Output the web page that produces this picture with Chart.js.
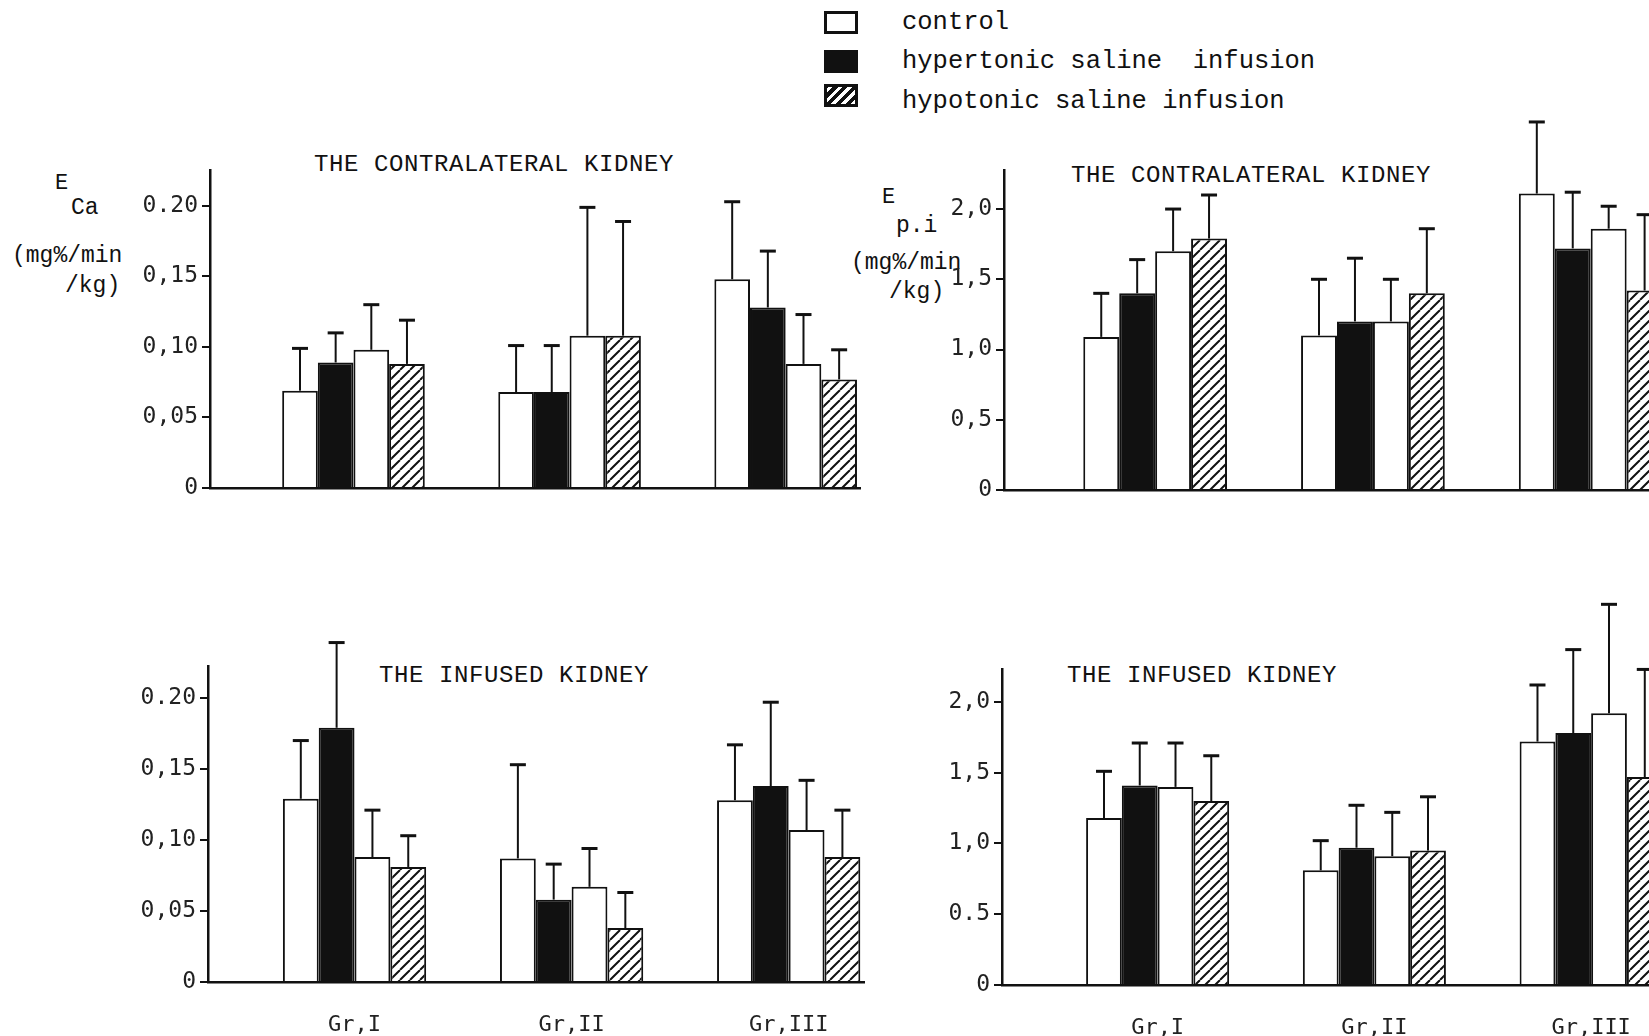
<!DOCTYPE html>
<html lang="en">
<head>
  <meta charset="UTF-8" />
  <title>E Ca and E Pi – contralateral and infused kidney</title>
  <script src="https://cdn.jsdelivr.net/npm/chart.js@4.4.1/dist/chart.umd.min.js"></script>
  <style>
    body { margin: 0; width: 1649px; height: 1036px; overflow: hidden; position: relative; background: #fff; color: #111; font-family: "Liberation Mono", "DejaVu Sans Mono", monospace; }
    canvas { position: absolute; }
    .t { position: absolute; white-space: pre; line-height: 1; transform: translateY(-50%); }
    .title { font-size: 24px; letter-spacing: 0.6px; transform: translate(-50%, -50%); }
    .unit { font-size: 23px; }
    .sup { font-size: 22px; }
    .leg { font-size: 25.5px; }
    .sw { position: absolute; width: 34px; height: 23px; box-sizing: border-box; border: 3px solid #111; }
  </style>
</head>
<body>

  <!-- legend -->
  <div class="sw" style="left:824px; top:11px; background:#fff;"></div>
  <div class="sw" style="left:824px; top:50px; background:#111;"></div>
  <div class="sw" style="left:824px; top:84px; background:repeating-linear-gradient(-45deg, #fff 0 3px, #111 3px 7px);"></div>
  <div class="t leg" style="left:902px; top:23px;">control</div>
  <div class="t leg" style="left:902px; top:62px;">hypertonic saline  infusion</div>
  <div class="t leg" style="left:902px; top:102px;">hypotonic saline infusion</div>

  <!-- axis units -->
  <div class="t sup" style="left:55px; top:184px;">E</div>
  <div class="t unit" style="left:71px; top:208px;">Ca</div>
  <div class="t unit" style="left:12px; top:256px;">(mg%/min</div>
  <div class="t unit" style="left:65px; top:286px;">/kg)</div>

  <div class="t sup" style="left:882px; top:198px;">E</div>
  <div class="t unit" style="left:896px; top:226px;">p.i</div>
  <div class="t unit" style="left:851px; top:263px;">(mg%/min</div>
  <div class="t unit" style="left:889px; top:292px;">/kg)</div>

  <!-- panel titles -->
  <div class="t title" style="left:494px; top:165px;">THE CONTRALATERAL KIDNEY</div>
  <div class="t title" style="left:1251px; top:176px;">THE CONTRALATERAL KIDNEY</div>
  <div class="t title" style="left:514px; top:676px;">THE INFUSED KIDNEY</div>
  <div class="t title" style="left:1202px; top:676px;">THE INFUSED KIDNEY</div>

  <canvas id="caContra" width="900" height="440" style="left:0px; top:110px;"></canvas>
  <canvas id="piContra" width="900" height="450" style="left:800px; top:100px;"></canvas>
  <canvas id="caInf" width="900" height="466" style="left:0px; top:570px;"></canvas>
  <canvas id="piInf" width="900" height="476" style="left:800px; top:560px;"></canvas>

  <script>
    const groupLabels = ['Gr,I', 'Gr,II', 'Gr,III'];
    const groupX = [1, 2, 3];
    const seriesNames = ['control', 'hypertonic saline infusion', 'control', 'hypotonic saline infusion'];

    // E Ca, contralateral kidney (mean, SD)
    const caContraControl1 = [0.069, 0.068, 0.148];
    const caContraHyper    = [0.089, 0.068, 0.128];
    const caContraControl2 = [0.098, 0.108, 0.088];
    const caContraHypo     = [0.088, 0.108, 0.077];
    const caContraControl1Sd = [0.030, 0.033, 0.055];
    const caContraHyperSd    = [0.021, 0.033, 0.040];
    const caContraControl2Sd = [0.032, 0.091, 0.035];
    const caContraHypoSd     = [0.031, 0.081, 0.021];

    // E Pi, contralateral kidney
    const piContraControl1 = [1.09, 1.10, 2.11];
    const piContraHyper    = [1.40, 1.20, 1.72];
    const piContraControl2 = [1.70, 1.20, 1.86];
    const piContraHypo     = [1.79, 1.40, 1.42];
    const piContraControl1Sd = [0.31, 0.40, 0.51];
    const piContraHyperSd    = [0.24, 0.45, 0.40];
    const piContraControl2Sd = [0.30, 0.30, 0.16];
    const piContraHypoSd     = [0.31, 0.46, 0.54];

    // E Ca, infused kidney
    const caInfControl1 = [0.129, 0.087, 0.128];
    const caInfHyper    = [0.179, 0.058, 0.138];
    const caInfControl2 = [0.088, 0.067, 0.107];
    const caInfHypo     = [0.081, 0.038, 0.088];
    const caInfControl1Sd = [0.041, 0.066, 0.039];
    const caInfHyperSd    = [0.060, 0.025, 0.059];
    const caInfControl2Sd = [0.033, 0.027, 0.035];
    const caInfHypoSd     = [0.022, 0.025, 0.033];

    // E Pi, infused kidney
    const piInfControl1 = [1.18, 0.81, 1.72];
    const piInfHyper    = [1.41, 0.97, 1.78];
    const piInfControl2 = [1.40, 0.91, 1.92];
    const piInfHypo     = [1.30, 0.95, 1.47];
    const piInfControl1Sd = [0.33, 0.21, 0.40];
    const piInfHyperSd    = [0.30, 0.30, 0.59];
    const piInfControl2Sd = [0.31, 0.31, 0.77];
    const piInfHypoSd     = [0.32, 0.38, 0.76];

    const caTicks = [0, 0.05, 0.10, 0.15, 0.20];
    const caTickLabels = ['0', '0,05', '0,10', '0,15', '0.20'];
    const piTicks = [0, 0.5, 1.0, 1.5, 2.0];
    const piContraTickLabels = ['0', '0,5', '1,0', '1,5', '2,0'];
    const piInfTickLabels = ['0', '0.5', '1,0', '1,5', '2,0'];

    function hatchPattern() {
      const s = 10;
      const c = document.createElement('canvas');
      c.width = s; c.height = s;
      const g = c.getContext('2d');
      g.fillStyle = '#fff';
      g.fillRect(0, 0, s, s);
      g.strokeStyle = '#111';
      g.lineWidth = 2;
      g.beginPath();
      for (const k of [-s, 0, s]) { g.moveTo(k, s); g.lineTo(k + s, 0); }
      g.stroke();
      return g.createPattern(c, 'repeat');
    }

    const fills = ['#fff', '#111', '#fff', hatchPattern()];

    // draws mean + SD whiskers above each bar
    const errorBars = {
      id: 'errorBars',
      afterDatasetsDraw(chart) {
        const ctx = chart.ctx;
        const y = chart.scales.y;
        ctx.save();
        ctx.strokeStyle = '#111';
        chart.data.datasets.forEach((ds, k) => {
          chart.getDatasetMeta(k).data.forEach((bar, i) => {
            const top = y.getPixelForValue(ds.data[i].y + ds.sd[i]);
            ctx.lineWidth = 2;
            ctx.beginPath();
            ctx.moveTo(bar.x, bar.y);
            ctx.lineTo(bar.x, top);
            ctx.stroke();
            ctx.lineWidth = 3;
            ctx.beginPath();
            ctx.moveTo(bar.x - 8, top);
            ctx.lineTo(bar.x + 8, top);
            ctx.stroke();
          });
        });
        ctx.restore();
      }
    };

    function panel(id, means, sds, ticks, tickLabels, f) {
      new Chart(document.getElementById(id), {
        type: 'bar',
        data: {
          datasets: means.map((m, k) => ({
            label: seriesNames[k],
            data: m.map((v, i) => ({ x: groupX[i], y: v })),
            sd: sds[k],
            backgroundColor: fills[k],
            borderColor: '#111',
            borderWidth: 2,
            categoryPercentage: f.groupShare,
            barPercentage: 1
          }))
        },
        options: {
          responsive: false,
          animation: false,
          devicePixelRatio: 1,
          layout: { padding: { top: f.padTop, right: f.padRight, left: 0, bottom: 0 } },
          plugins: { legend: { display: false }, tooltip: { enabled: false } },
          scales: {
            x: {
              type: 'linear',
              min: f.xMin,
              max: f.xMax,
              offset: false,
              afterFit: s => { s.height = f.xAxisH; },
              afterBuildTicks: s => { s.ticks = groupX.map(v => ({ value: v })); },
              grid: { display: false },
              border: { display: true, color: '#111', width: 2.5 },
              ticks: {
                display: f.showGroups,
                padding: 22,
                color: '#222',
                font: { family: '"DejaVu Sans Mono", monospace', size: 22 },
                callback: v => groupLabels[groupX.indexOf(v)]
              }
            },
            y: {
              min: 0,
              max: f.yMax,
              afterFit: s => { s.width = f.yAxisW; },
              afterBuildTicks: s => { s.ticks = ticks.map(v => ({ value: v })); },
              grid: { display: true, drawOnChartArea: false, drawTicks: true, tickLength: 8, color: '#111', lineWidth: 2 },
              border: { display: true, color: '#111', width: 2.5 },
              ticks: {
                padding: 4,
                color: '#222',
                font: { family: '"DejaVu Sans Mono", monospace', size: 23 },
                callback: v => tickLabels[ticks.indexOf(v)]
              }
            }
          }
        },
        plugins: [errorBars]
      });
    }

    panel('caContra',
      [caContraControl1, caContraHyper, caContraControl2, caContraHypo],
      [caContraControl1Sd, caContraHyperSd, caContraControl2Sd, caContraHypoSd],
      caTicks, caTickLabels,
      { yAxisW: 210, xAxisH: 62, padTop: 60, padRight: 40, xMin: 0.336, xMax: 3.344, yMax: 0.2255, groupShare: 0.66, showGroups: false });

    panel('piContra',
      [piContraControl1, piContraHyper, piContraControl2, piContraHypo],
      [piContraControl1Sd, piContraHyperSd, piContraControl2Sd, piContraHypoSd],
      piTicks, piContraTickLabels,
      { yAxisW: 204, xAxisH: 60, padTop: 70, padRight: 20, xMin: 0.306, xMax: 3.41, yMax: 2.278, groupShare: 0.66, showGroups: false });

    panel('caInf',
      [caInfControl1, caInfHyper, caInfControl2, caInfHypo],
      [caInfControl1Sd, caInfHyperSd, caInfControl2Sd, caInfHypoSd],
      caTicks, caTickLabels,
      { yAxisW: 208, xAxisH: 54, padTop: 96, padRight: 36, xMin: 0.325, xMax: 3.347, yMax: 0.2225, groupShare: 0.66, showGroups: true });

    panel('piInf',
      [piInfControl1, piInfHyper, piInfControl2, piInfHypo],
      [piInfControl1Sd, piInfHyperSd, piInfControl2Sd, piInfHypoSd],
      piTicks, piInfTickLabels,
      { yAxisW: 202, xAxisH: 51, padTop: 109, padRight: 20, xMin: 0.282, xMax: 3.41, yMax: 2.233, groupShare: 0.66, showGroups: true });
  </script>
</body>
</html>
